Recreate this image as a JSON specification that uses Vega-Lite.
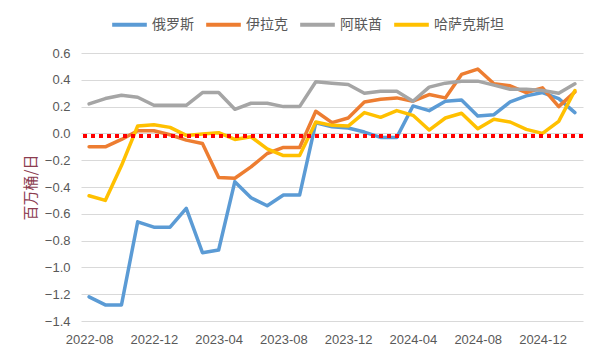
{
  "$schema": "https://vega.github.io/schema/vega-lite/v6.json",
  "width": 502,
  "height": 268,
  "autosize": {"type": "none"},
  "padding": {"left": 81, "top": 53, "right": 17, "bottom": 39},
  "background": "white",
  "config": {
    "view": {"stroke": null},
    "axis": {"labelFont": "Liberation Sans", "labelFontSize": 13, "labelColor": "#595959", "gridColor": "#D9D9D9", "gridWidth": 1, "domain": false, "ticks": false, "labelOverlap": false}
  },
  "datasets": {
    "main": [
      {"m": "2022-08", "俄罗斯": -1.22, "伊拉克": -0.10, "阿联酋": 0.22, "哈萨克斯坦": -0.465},
      {"m": "2022-09", "俄罗斯": -1.28, "伊拉克": -0.10, "阿联酋": 0.26, "哈萨克斯坦": -0.50},
      {"m": "2022-10", "俄罗斯": -1.28, "伊拉克": -0.045, "阿联酋": 0.285, "哈萨克斯坦": -0.24},
      {"m": "2022-11", "俄罗斯": -0.66, "伊拉克": 0.02, "阿联酋": 0.27, "哈萨克斯坦": 0.055},
      {"m": "2022-12", "俄罗斯": -0.70, "伊拉克": 0.02, "阿联酋": 0.21, "哈萨克斯坦": 0.065},
      {"m": "2023-01", "俄罗斯": -0.70, "伊拉克": -0.01, "阿联酋": 0.21, "哈萨克斯坦": 0.045},
      {"m": "2023-02", "俄罗斯": -0.56, "伊拉克": -0.05, "阿联酋": 0.21, "哈萨克斯坦": -0.015},
      {"m": "2023-03", "俄罗斯": -0.89, "伊拉克": -0.075, "阿联酋": 0.305, "哈萨克斯坦": -0.005},
      {"m": "2023-04", "俄罗斯": -0.87, "伊拉克": -0.33, "阿联酋": 0.305, "哈萨克斯坦": 0.005},
      {"m": "2023-05", "俄罗斯": -0.36, "伊拉克": -0.335, "阿联酋": 0.18, "哈萨克斯坦": -0.045},
      {"m": "2023-06", "俄罗斯": -0.48, "伊拉克": -0.25, "阿联酋": 0.225, "哈萨克斯坦": -0.025},
      {"m": "2023-07", "俄罗斯": -0.54, "伊拉克": -0.15, "阿联酋": 0.225, "哈萨克斯坦": -0.115},
      {"m": "2023-08", "俄罗斯": -0.46, "伊拉克": -0.105, "阿联酋": 0.20, "哈萨克斯坦": -0.165},
      {"m": "2023-09", "俄罗斯": -0.46, "伊拉克": -0.105, "阿联酋": 0.20, "哈萨克斯坦": -0.165},
      {"m": "2023-10", "俄罗斯": 0.08, "伊拉克": 0.165, "阿联酋": 0.385, "哈萨克斯坦": 0.085},
      {"m": "2023-11", "俄罗斯": 0.05, "伊拉克": 0.08, "阿联酋": 0.375, "哈萨克斯坦": 0.06},
      {"m": "2023-12", "俄罗斯": 0.04, "伊拉克": 0.115, "阿联酋": 0.365, "哈萨克斯坦": 0.055},
      {"m": "2024-01", "俄罗斯": 0.01, "伊拉克": 0.235, "阿联酋": 0.30, "哈萨克斯坦": 0.155},
      {"m": "2024-02", "俄罗斯": -0.03, "伊拉克": 0.255, "阿联酋": 0.315, "哈萨克斯坦": 0.12},
      {"m": "2024-03", "俄罗斯": -0.03, "伊拉克": 0.265, "阿联酋": 0.315, "哈萨克斯坦": 0.17},
      {"m": "2024-04", "俄罗斯": 0.205, "伊拉克": 0.24, "阿联酋": 0.24, "哈萨克斯坦": 0.135},
      {"m": "2024-05", "俄罗斯": 0.17, "伊拉克": 0.29, "阿联酋": 0.345, "哈萨克斯坦": 0.025},
      {"m": "2024-06", "俄罗斯": 0.24, "伊拉克": 0.265, "阿联酋": 0.375, "哈萨克斯坦": 0.115},
      {"m": "2024-07", "俄罗斯": 0.25, "伊拉克": 0.44, "阿联酋": 0.39, "哈萨克斯坦": 0.15},
      {"m": "2024-08", "俄罗斯": 0.13, "伊拉克": 0.48, "阿联酋": 0.39, "哈萨克斯坦": 0.035},
      {"m": "2024-09", "俄罗斯": 0.14, "伊拉克": 0.37, "阿联酋": 0.36, "哈萨克斯坦": 0.105},
      {"m": "2024-10", "俄罗斯": 0.235, "伊拉克": 0.355, "阿联酋": 0.33, "哈萨克斯坦": 0.085},
      {"m": "2024-11", "俄罗斯": 0.28, "伊拉克": 0.305, "阿联酋": 0.33, "哈萨克斯坦": 0.03},
      {"m": "2024-12", "俄罗斯": 0.305, "伊拉克": 0.34, "阿联酋": 0.32, "哈萨克斯坦": 0.0},
      {"m": "2025-01", "俄罗斯": 0.26, "伊拉克": 0.20, "阿联酋": 0.30, "哈萨克斯坦": 0.09},
      {"m": "2025-02", "俄罗斯": 0.155, "伊拉克": 0.31, "阿联酋": 0.37, "哈萨克斯坦": 0.32}
    ],
    "ref": [{"level": -0.02}]
  },
  "layer": [
    {
      "data": {"name": "main"},
      "transform": [{"fold": ["俄罗斯", "伊拉克", "阿联酋", "哈萨克斯坦"], "as": ["country", "value"]}],
      "mark": {"type": "line", "strokeWidth": 3.5, "strokeCap": "round", "strokeJoin": "round"},
      "encoding": {
        "x": {"field": "m", "type": "ordinal", "scale": {"type": "point", "padding": 0.5},
          "axis": {"title": null, "labelAngle": 0, "grid": false, "labelPadding": 12,
            "values": ["2022-08", "2022-12", "2023-04", "2023-08", "2023-12", "2024-04", "2024-08", "2024-12"]}},
        "y": {"field": "value", "type": "quantitative", "scale": {"domain": [-1.4, 0.6], "nice": false},
          "axis": {"values": [-1.4, -1.2, -1.0, -0.8, -0.6, -0.4, -0.2, 0, 0.2, 0.4, 0.6], "tickCount": 11, "format": ".1f", "labelPadding": 11,
            "title": "百万桶/日", "titleFont": "Noto Sans CJK SC", "titleFontSize": 15, "titleFontWeight": "normal", "titleColor": "#8C3C50", "titlePadding": 6}},
        "color": {"field": "country", "type": "nominal",
          "scale": {"domain": ["俄罗斯", "伊拉克", "阿联酋", "哈萨克斯坦"], "range": ["#5B9BD5", "#ED7D31", "#A5A5A5", "#FFC000"]},
          "legend": {"title": null, "orient": "none", "direction": "horizontal", "legendX": 29, "legendY": -48,
            "symbolType": "stroke", "symbolSize": 1200, "symbolStrokeWidth": 4, "labelFont": "Noto Sans CJK SC", "labelFontSize": 14,
            "labelColor": "#595959", "labelOffset": 3, "columnPadding": 4}},
        "order": {"field": "country"}
      }
    },
    {
      "data": {"name": "ref"},
      "mark": {"type": "rule", "color": "#FF0000", "strokeWidth": 4, "strokeDash": [4, 4]},
      "encoding": {"y": {"field": "level", "type": "quantitative",
        "axis": {"values": [-1.4, -1.2, -1.0, -0.8, -0.6, -0.4, -0.2, 0, 0.2, 0.4, 0.6], "tickCount": 11, "format": ".1f", "labelPadding": 11,
            "title": "百万桶/日", "titleFont": "Noto Sans CJK SC", "titleFontSize": 15, "titleFontWeight": "normal", "titleColor": "#8C3C50", "titlePadding": 6}}}
    }
  ]
}
